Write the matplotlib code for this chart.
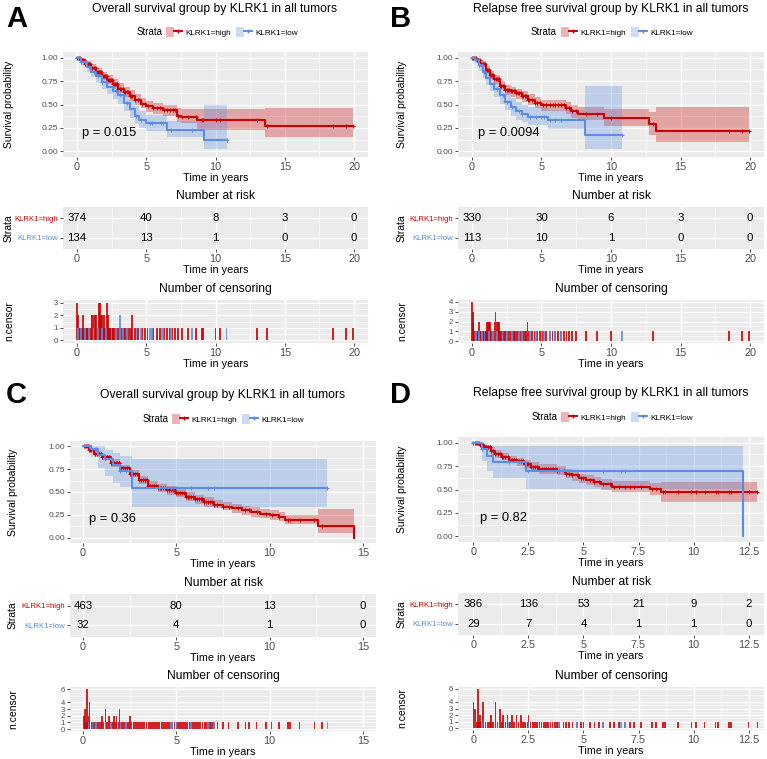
import numpy as np
import matplotlib
matplotlib.use('Agg')
import matplotlib.pyplot as plt
from matplotlib.patches import Patch
from matplotlib.lines import Line2D
from matplotlib.legend_handler import HandlerTuple

plt.rcParams['font.family'] = ['Liberation Sans', 'DejaVu Sans']

# ---------------- DATA ----------------
strata_labels = ['KLRK1=high', 'KLRK1=low']

# Panel A : overall survival (all tumors)
A_title = 'Overall survival group by KLRK1 in all tumors'
A_pval = 'p = 0.015'
A_high_t = [0, 0.3, 0.6, 1.0, 1.4, 1.8, 2.2, 2.6, 3.0, 3.4, 3.8, 4.2, 4.6, 5.0, 5.5, 6.2, 7.2, 7.5, 8.7, 13.6, 19.9]
A_high_s = [1.0, 0.97, 0.93, 0.89, 0.85, 0.80, 0.76, 0.72, 0.67, 0.63, 0.59, 0.55, 0.51, 0.48, 0.46, 0.44, 0.38, 0.37, 0.335, 0.27, 0.27]
A_high_up = [1.0, 0.99, 0.96, 0.93, 0.89, 0.85, 0.81, 0.77, 0.73, 0.69, 0.65, 0.61, 0.57, 0.54, 0.52, 0.50, 0.46, 0.45, 0.45, 0.46, 0.46]
A_high_lo = [1.0, 0.95, 0.90, 0.86, 0.81, 0.76, 0.72, 0.67, 0.62, 0.58, 0.54, 0.50, 0.46, 0.42, 0.40, 0.38, 0.31, 0.30, 0.23, 0.155, 0.155]
A_low_t = [0, 0.3, 0.7, 1.0, 1.4, 1.8, 2.2, 2.6, 3.0, 3.4, 3.8, 4.2, 4.5, 5.0, 6.5, 9.2, 10.8]
A_low_s = [1.0, 0.95, 0.90, 0.85, 0.80, 0.74, 0.69, 0.64, 0.60, 0.52, 0.45, 0.38, 0.33, 0.30, 0.23, 0.12, 0.12]
A_low_up = [1.0, 0.99, 0.95, 0.91, 0.87, 0.82, 0.77, 0.73, 0.69, 0.62, 0.55, 0.48, 0.43, 0.39, 0.32, 0.50, 0.50]
A_low_lo = [1.0, 0.91, 0.85, 0.79, 0.73, 0.67, 0.61, 0.56, 0.51, 0.43, 0.36, 0.29, 0.25, 0.22, 0.15, 0.03, 0.03]
A_risk_t = [0, 5, 10, 15, 20]
A_risk_high = [374, 40, 8, 3, 0]
A_risk_low = [134, 13, 1, 0, 0]
A_cens_high_t = [0.00, 0.08, 0.15, 0.22, 0.30, 0.38, 0.45, 0.52, 0.60, 0.68, 0.75, 0.82, 0.90, 0.98, 1.05, 1.12, 1.20,
                 1.28, 1.35, 1.42, 1.50, 1.58, 1.65, 1.72, 1.80, 1.88, 1.95, 2.02, 2.10, 2.18, 2.25, 2.32, 2.40, 2.48,
                 2.55, 2.62, 2.70, 2.78, 2.85, 2.92, 3.00, 3.10, 3.20, 3.30, 3.40, 3.50, 3.60, 3.70, 3.80, 3.90, 4.00,
                 4.20, 4.40, 4.70, 4.90, 5.10, 5.50, 5.80, 6.00, 6.30, 6.50, 6.70, 6.90, 7.10, 7.30, 7.60, 8.00, 8.60,
                 9.00, 9.10, 10.00, 10.30, 13.00, 13.70, 18.50, 19.40, 19.90]
A_cens_high_n = [3, 2, 1, 1, 1, 1, 2, 1, 1, 1, 1, 1, 1, 1, 2, 2, 2,
                 2, 2, 2, 1, 3, 3, 2, 2, 1, 2, 1, 1, 3, 2, 1, 1, 1,
                 1, 1, 1, 1, 1, 1, 1, 1, 1, 1, 1, 1, 1, 1, 1, 1, 2,
                 1, 1, 1, 1, 1, 1, 1, 1, 1, 1, 1, 1, 1, 1, 1, 1, 1,
                 1, 1, 1, 1, 1, 1, 1, 1, 1]
A_cens_low_t = [0.10, 0.30, 0.60, 0.90, 1.20, 1.50, 1.80, 2.10, 2.50, 2.80, 3.10, 3.30, 3.60, 4.30, 4.60, 5.30, 5.40,
                6.10, 6.20, 6.80, 8.30, 10.80]
A_cens_low_n = [1, 1, 1, 1, 1, 1, 1, 1, 1, 1, 2, 1, 1, 1, 1, 1, 1, 1, 1, 1, 1, 1]

# Panel B : relapse free survival (all tumors)
B_title = 'Relapse free survival group by KLRK1 in all tumors'
B_pval = 'p = 0.0094'
B_high_t = [0, 0.3, 0.6, 1.0, 1.3, 1.6, 2.0, 2.4, 2.8, 3.2, 3.6, 4.0, 4.5, 5.0, 6.8, 7.1, 7.6, 9.5, 12.7, 13.2, 19.9]
B_high_s = [1.0, 0.97, 0.93, 0.87, 0.82, 0.77, 0.70, 0.66, 0.64, 0.62, 0.59, 0.55, 0.52, 0.49, 0.46, 0.43, 0.40, 0.36, 0.29, 0.22, 0.22]
B_high_up = [1.0, 0.99, 0.96, 0.91, 0.86, 0.82, 0.75, 0.71, 0.69, 0.67, 0.64, 0.61, 0.58, 0.55, 0.53, 0.50, 0.47, 0.45, 0.42, 0.47, 0.47]
B_high_lo = [1.0, 0.95, 0.90, 0.83, 0.77, 0.72, 0.65, 0.60, 0.58, 0.56, 0.53, 0.49, 0.46, 0.43, 0.40, 0.36, 0.33, 0.27, 0.18, 0.10, 0.10]
B_low_t = [0, 0.2, 0.5, 0.8, 1.0, 1.3, 1.6, 2.0, 2.4, 2.8, 3.2, 3.6, 4.0, 5.5, 8.1, 10.8]
B_low_s = [1.0, 0.97, 0.92, 0.85, 0.78, 0.72, 0.67, 0.60, 0.53, 0.47, 0.43, 0.40, 0.37, 0.34, 0.17, 0.17]
B_low_up = [1.0, 1.0, 0.98, 0.92, 0.86, 0.81, 0.76, 0.70, 0.63, 0.57, 0.53, 0.50, 0.47, 0.44, 0.70, 0.70]
B_low_lo = [1.0, 0.94, 0.86, 0.78, 0.71, 0.64, 0.58, 0.51, 0.44, 0.38, 0.34, 0.31, 0.28, 0.24, 0.03, 0.03]
B_risk_t = [0, 5, 10, 15, 20]
B_risk_high = [330, 30, 6, 3, 0]
B_risk_low = [113, 10, 1, 0, 0]
B_cens_high_t = [0.00, 0.05, 0.12, 0.20, 0.28, 0.35, 0.42, 0.50, 0.58, 0.65, 0.72, 0.80, 0.88, 0.95, 1.02, 1.10, 1.18,
                 1.25, 1.32, 1.40, 1.48, 1.55, 1.62, 1.70, 1.78, 1.85, 1.92, 2.00, 2.10, 2.20, 2.30, 2.40, 2.50, 2.60,
                 2.70, 2.80, 2.90, 3.00, 3.10, 3.20, 3.30, 3.40, 3.50, 3.60, 3.70, 3.80, 3.90, 4.00, 4.10, 4.30, 4.50,
                 4.70, 4.90, 5.10, 5.30, 5.60, 5.80, 6.00, 6.20, 6.40, 6.60, 6.80, 7.00, 7.20, 7.50, 8.20, 9.00, 10.00,
                 13.00, 18.50, 19.40, 19.90]
B_cens_high_n = [4, 3, 2, 1, 1, 1, 1, 2, 1, 1, 1, 1, 1, 1, 1, 2, 2,
                 2, 2, 1, 1, 1, 2, 3, 2, 2, 2, 1, 1, 1, 1, 1, 1, 1,
                 1, 1, 1, 1, 1, 1, 1, 1, 1, 1, 1, 1, 1, 2, 1, 1, 1,
                 1, 1, 1, 1, 1, 1, 1, 1, 1, 1, 1, 1, 1, 1, 1, 1, 1,
                 1, 1, 1, 1]
B_cens_low_t = [0.30, 0.50, 0.70, 0.90, 1.20, 1.50, 1.80, 2.20, 2.50, 2.90, 3.40, 3.60, 4.20, 4.60, 5.00, 5.20, 5.60,
                6.00, 6.40, 10.80]
B_cens_low_n = [1, 1, 1, 1, 1, 1, 1, 1, 1, 1, 1, 1, 1, 1, 1, 1, 1, 1, 1, 1]

# Panel C : overall survival
C_title = 'Overall survival group by KLRK1 in all tumors'
C_pval = 'p = 0.36'
C_high_t = [0, 0.3, 0.6, 1.0, 1.5, 2.0, 2.5, 3.0, 3.5, 4.0, 4.5, 5.0, 5.5, 6.0, 6.5, 7.0, 7.5, 8.0, 8.5, 9.0, 9.5,
            10.0, 10.5, 10.8, 12.6, 14.5]
C_high_s = [1.0, 0.96, 0.92, 0.88, 0.82, 0.76, 0.70, 0.63, 0.57, 0.54, 0.52, 0.49, 0.45, 0.42, 0.39, 0.36, 0.34, 0.32,
            0.30, 0.28, 0.26, 0.245, 0.23, 0.195, 0.125, 0.0]
C_high_up = [1.0, 0.98, 0.95, 0.91, 0.86, 0.80, 0.74, 0.68, 0.62, 0.59, 0.57, 0.54, 0.50, 0.47, 0.44, 0.41, 0.39, 0.37,
             0.35, 0.33, 0.31, 0.30, 0.28, 0.25, 0.31, 0.31]
C_high_lo = [1.0, 0.94, 0.89, 0.85, 0.78, 0.72, 0.66, 0.59, 0.53, 0.50, 0.47, 0.44, 0.40, 0.37, 0.34, 0.32, 0.30, 0.27,
             0.25, 0.23, 0.21, 0.19, 0.18, 0.15, 0.05, 0.05]
C_low_t = [0, 0.4, 0.8, 1.2, 1.6, 2.0, 2.6, 13.1]
C_low_s = [1.0, 0.97, 0.91, 0.86, 0.80, 0.73, 0.545, 0.545]
C_low_up = [1.0, 1.0, 1.0, 0.96, 0.93, 0.90, 0.86, 0.86]
C_low_lo = [1.0, 0.88, 0.76, 0.68, 0.60, 0.55, 0.34, 0.34]
C_risk_t = [0, 5, 10, 15]
C_risk_high = [463, 80, 13, 0]
C_risk_low = [32, 4, 1, 0]
C_cens_high_t = [0.05, 0.10, 0.15, 0.20, 0.25, 0.30, 0.35, 0.45, 0.55, 0.65, 0.75, 0.85, 0.95, 1.00, 1.10, 1.20, 1.30,
                 1.40, 1.50, 1.60, 1.65, 1.75, 1.80, 1.90, 1.95, 2.05, 2.15, 2.25, 2.35, 2.45, 2.50, 2.60, 2.70, 2.80,
                 2.90, 3.00, 3.10, 3.20, 3.30, 3.40, 3.50, 3.60, 3.70, 3.80, 3.90, 4.00, 4.10, 4.20, 4.30, 4.40, 4.50,
                 4.60, 4.70, 4.80, 4.90, 5.00, 5.10, 5.20, 5.30, 5.40, 5.50, 5.60, 5.70, 5.80, 5.90, 6.00, 6.10, 6.20,
                 6.30, 6.40, 6.50, 6.60, 6.70, 6.80, 6.90, 7.00, 7.20, 7.50, 7.80, 8.30, 8.70, 8.90, 9.30, 9.80, 10.10,
                 10.50, 11.00, 11.10, 11.60, 12.40, 12.80]
C_cens_high_n = [2, 3, 1, 6, 1, 2, 4, 1, 1, 1, 1, 1, 1, 2, 1, 3, 1,
                 2, 1, 1, 2, 1, 2, 1, 3, 1, 1, 1, 1, 1, 2, 1, 1, 1,
                 1, 1, 1, 1, 1, 1, 1, 1, 1, 1, 1, 1, 1, 1, 1, 1, 1,
                 1, 1, 1, 1, 1, 1, 1, 1, 1, 1, 1, 1, 1, 1, 1, 1, 1,
                 1, 1, 1, 1, 1, 1, 1, 1, 1, 1, 1, 1, 1, 1, 1, 1, 1,
                 1, 1, 1, 1, 1, 1]
C_cens_low_t = [0.30, 0.50, 0.70, 1.20, 1.50, 2.00, 2.30, 4.70, 4.80, 5.00, 5.80, 6.70, 7.00, 13.10]
C_cens_low_n = [1, 1, 1, 1, 1, 1, 1, 1, 1, 1, 1, 1, 1, 1]

# Panel D : relapse free survival
D_title = 'Relapse free survival group by KLRK1 in all tumors'
D_pval = 'p = 0.82'
D_high_t = [0, 0.3, 0.5, 0.8, 1.0, 1.3, 1.6, 2.0, 2.3, 2.6, 3.0, 3.8, 4.2, 4.5, 4.8, 5.1, 5.5, 5.8, 6.3, 8.0, 8.5, 12.9]
D_high_s = [1.0, 0.98, 0.95, 0.91, 0.88, 0.85, 0.82, 0.80, 0.77, 0.74, 0.72, 0.70, 0.67, 0.65, 0.62, 0.60, 0.58, 0.56,
            0.53, 0.51, 0.47, 0.47]
D_high_up = [1.0, 1.0, 0.98, 0.95, 0.92, 0.89, 0.86, 0.84, 0.81, 0.79, 0.77, 0.75, 0.72, 0.70, 0.67, 0.65, 0.63, 0.61,
             0.59, 0.57, 0.58, 0.58]
D_high_lo = [1.0, 0.96, 0.92, 0.87, 0.84, 0.81, 0.78, 0.75, 0.72, 0.69, 0.67, 0.65, 0.62, 0.59, 0.57, 0.55, 0.53, 0.50,
             0.47, 0.44, 0.37, 0.37]
D_low_t = [0, 0.4, 0.6, 0.9, 2.4, 12.25]
D_low_s = [1.0, 0.93, 0.86, 0.79, 0.70, 0.0]
D_low_up = [1.0, 1.0, 0.98, 0.96, 0.96, 0.96]
D_low_lo = [1.0, 0.80, 0.70, 0.62, 0.51, 0.51]
D_risk_t = [0, 2.5, 5, 7.5, 10, 12.5]
D_risk_high = [386, 136, 53, 21, 9, 2]
D_risk_low = [29, 7, 4, 1, 1, 0]
D_cens_high_t = [0.00, 0.05, 0.10, 0.15, 0.20, 0.25, 0.30, 0.35, 0.45, 0.55, 0.65, 0.75, 0.80, 0.90, 1.00, 1.10, 1.20,
                 1.30, 1.35, 1.45, 1.55, 1.65, 1.75, 1.85, 1.95, 2.05, 2.15, 2.25, 2.35, 2.45, 2.50, 2.60, 2.70, 2.80,
                 2.90, 3.00, 3.10, 3.20, 3.30, 3.40, 3.50, 3.60, 3.70, 3.80, 3.90, 4.10, 4.20, 4.35, 4.50, 4.70, 4.90,
                 5.00, 5.30, 5.50, 5.70, 5.90, 6.20, 6.40, 6.60, 6.90, 7.10, 7.30, 7.60, 8.10, 8.30, 8.60, 8.70, 9.30,
                 9.90, 10.10, 10.50, 11.00, 11.10, 11.60, 11.70, 12.50, 12.90]
D_cens_high_n = [4, 3, 3, 1, 6, 1, 2, 1, 4, 1, 1, 1, 2, 1, 4, 1, 3,
                 1, 2, 1, 2, 1, 2, 1, 2, 1, 2, 1, 1, 1, 2, 1, 1, 1,
                 1, 1, 1, 1, 1, 1, 1, 1, 1, 1, 1, 1, 1, 1, 1, 1, 1,
                 1, 1, 1, 1, 1, 1, 1, 1, 1, 1, 1, 1, 1, 1, 1, 1, 1,
                 1, 1, 1, 1, 1, 1, 1, 1, 1]
D_cens_low_t = [0.40, 1.60, 2.50, 3.90, 4.70, 5.90, 6.70, 6.90]
D_cens_low_n = [1, 1, 1, 1, 1, 1, 1, 1]

# ---------------- STYLE / LAYOUT ----------------
W, H = 767, 759
RED = '#CC0000'
BLUE = '#5B8DE3'
PANEL = '#EBEBEB'
TXT = '#4D4D4D'
TICK = '#333333'

fig = plt.figure(figsize=(W / 100, H / 100), dpi=100)


def box(x0, y0, x1, y1):
    return [x0 / W, 1 - y1 / H, (x1 - x0) / W, (y1 - y0) / H]


def style_ax(ax, xlim, xticks, xticklabels):
    ax.set_facecolor(PANEL)
    for sp in ax.spines.values():
        sp.set_visible(False)
    ax.set_xlim(*xlim)
    ax.set_xticks(xticks)
    ax.set_xticklabels(xticklabels)
    minors = [(a + b) / 2 for a, b in zip(xticks[:-1], xticks[1:])]
    ax.set_xticks(minors, minor=True)
    ax.tick_params(axis='x', which='major', length=2.5, width=0.6, color=TICK, labelsize=7.8,
                   labelcolor=TXT, pad=1)
    ax.tick_params(axis='y', which='major', length=2.5, width=0.6, color=TICK, labelsize=6,
                   labelcolor=TXT, pad=1)
    ax.tick_params(which='minor', length=0)
    ax.grid(which='major', color='white', lw=0.9)
    ax.grid(which='minor', color='white', lw=0.45)
    ax.set_axisbelow(True)


def step_value(t, s, x):
    i = np.searchsorted(np.asarray(t), x, side='right') - 1
    return np.asarray(s)[i]


def draw_panel(cfg):
    L = cfg['layout']
    xlim, xt, xtl = cfg['xlim'], cfg['xticks'], cfg['xticklabels']

    # letter, title, legend
    fig.text(L['letter'][0] / W, 1 - L['letter'][1] / H, cfg['letter'], fontsize=21, weight='bold',
             ha='left', va='top')
    fig.text(L['title'][0] / W, 1 - L['title'][1] / H, cfg['title'], fontsize=8.7, ha='center', va='center')
    fig.text(L['strata_x'] / W, 1 - L['legend_y'] / H, 'Strata', fontsize=6.9, ha='left', va='center')
    h_high = (Patch(facecolor=RED, alpha=0.3, edgecolor='none'),
              Line2D([], [], color=RED, lw=1.4, marker='+', markersize=3.5))
    h_low = (Patch(facecolor=BLUE, alpha=0.3, edgecolor='none'),
             Line2D([], [], color=BLUE, lw=1.4, marker='+', markersize=3.5))
    fig.legend([h_high, h_low], strata_labels, ncol=2, loc='center left',
               bbox_to_anchor=(L['legend_x'] / W, 1 - L['legend_y'] / H), frameon=False, fontsize=5.9,
               handlelength=2.0, handleheight=1.6, handletextpad=0.35, columnspacing=0.6,
               borderpad=0, borderaxespad=0, handler_map={tuple: HandlerTuple(ndivide=None, pad=0)})

    # survival curves
    ax = fig.add_axes(box(*L['surv']))
    style_ax(ax, xlim, xt, xtl)
    ax.set_ylim(-0.06, 1.06)
    ax.set_yticks([0, 0.25, 0.5, 0.75, 1.0])
    ax.set_yticklabels(['0.00', '0.25', '0.50', '0.75', '1.00'])
    ax.set_yticks([0.125, 0.375, 0.625, 0.875], minor=True)
    for (t, s, up, lo, ct, col) in [
        (cfg['high_t'], cfg['high_s'], cfg['high_up'], cfg['high_lo'], cfg['cens_high_t'], RED),
        (cfg['low_t'], cfg['low_s'], cfg['low_up'], cfg['low_lo'], cfg['cens_low_t'], BLUE)]:
        ax.fill_between(t, lo, up, step='post', color=col, alpha=0.3, lw=0)
        ax.step(t, s, where='post', color=col, lw=1.5)
        ctv = [c for c in ct if c <= t[-1]]
        ax.plot(ctv, [step_value(t, s, c) for c in ctv], ls='none', marker='+', color=col,
                markersize=3.3, mew=0.7)
    ax.text(cfg['pval_x'], 0.2, cfg['pval'], fontsize=9.3, ha='left', va='center')
    ax.set_xlabel('Time in years', fontsize=7.8, labelpad=1)
    sy = (L['surv'][1] + L['surv'][3]) / 2
    fig.text(L['ylab_x'] / W, 1 - sy / H, 'Survival probability', rotation=90, fontsize=7.5,
             ha='center', va='center')

    # risk table
    ax2 = fig.add_axes(box(*L['risk']))
    style_ax(ax2, xlim, xt, xtl)
    ax2.set_ylim(0.4, 2.6)
    ax2.set_yticks([1, 2])
    ax2.set_yticklabels([strata_labels[1], strata_labels[0]], fontsize=5.6)
    ax2.get_yticklabels()[0].set_color(BLUE)
    ax2.get_yticklabels()[1].set_color(RED)
    for x, nh, nl in zip(cfg['risk_t'], cfg['risk_high'], cfg['risk_low']):
        ax2.text(x, 2, str(nh), ha='center', va='center', fontsize=8.2)
        ax2.text(x, 1, str(nl), ha='center', va='center', fontsize=8.2)
    ax2.set_xlabel('Time in years', fontsize=7.8, labelpad=1)
    ry = (L['risk'][1] + L['risk'][3]) / 2
    fig.text(L['ylab_x'] / W, 1 - ry / H, 'Strata', rotation=90, fontsize=7.5, ha='center', va='center')
    cx = (L['risk'][0] + L['risk'][2]) / 2
    fig.text(cx / W, 1 - (L['risk'][1] - 11) / H, 'Number at risk', fontsize=8.7, ha='center', va='center')

    # censoring
    ax3 = fig.add_axes(box(*L['cens']))
    style_ax(ax3, xlim, xt, xtl)
    ax3.set_ylim(*cfg['cens_ylim'])
    ax3.set_yticks(cfg['cens_yticks'])
    ax3.set_yticklabels([str(v) for v in cfg['cens_yticks']], fontsize=5.6)
    yt = cfg['cens_yticks']
    ax3.set_yticks([(a + b) / 2 for a, b in zip(yt[:-1], yt[1:])], minor=True)
    ax3.bar(cfg['cens_high_t'], cfg['cens_high_n'], width=cfg['bar_w'], color=RED, alpha=0.85, lw=0)
    ax3.bar(cfg['cens_low_t'], cfg['cens_low_n'], width=cfg['bar_w'], color=BLUE, alpha=0.85, lw=0)
    ax3.set_xlabel('Time in years', fontsize=7.8, labelpad=1)
    ny = (L['cens'][1] + L['cens'][3]) / 2
    fig.text(L['ylab_x'] / W, 1 - ny / H, 'n.censor', rotation=90, fontsize=7.5, ha='center', va='center')
    fig.text(cx / W, 1 - (L['cens'][1] - 11) / H, 'Number of censoring', fontsize=8.7, ha='center', va='center')


ticks20 = [0, 5, 10, 15, 20]
ticks15 = [0, 5, 10, 15]
ticks125 = [0, 2.5, 5, 7.5, 10, 12.5]

panels = [
    dict(letter='A', title=A_title, pval=A_pval, pval_x=0.34,
         high_t=A_high_t, high_s=A_high_s, high_up=A_high_up, high_lo=A_high_lo,
         low_t=A_low_t, low_s=A_low_s, low_up=A_low_up, low_lo=A_low_lo,
         risk_t=A_risk_t, risk_high=A_risk_high, risk_low=A_risk_low,
         cens_high_t=A_cens_high_t, cens_high_n=A_cens_high_n, cens_low_t=A_cens_low_t, cens_low_n=A_cens_low_n,
         xlim=(-1, 21), xticks=ticks20, xticklabels=['0', '5', '10', '15', '20'],
         cens_yticks=[0, 1, 2, 3], cens_ylim=(-0.2, 3.2), bar_w=0.13,
         layout=dict(letter=(6, 5), title=(215, 9), strata_x=137, legend_x=166, legend_y=32, ylab_x=9,
                     surv=(63, 52, 368, 157), risk=(63, 207, 368, 249), cens=(63, 300, 368, 343))),
    dict(letter='B', title=B_title, pval=B_pval, pval_x=0.45,
         high_t=B_high_t, high_s=B_high_s, high_up=B_high_up, high_lo=B_high_lo,
         low_t=B_low_t, low_s=B_low_s, low_up=B_low_up, low_lo=B_low_lo,
         risk_t=B_risk_t, risk_high=B_risk_high, risk_low=B_risk_low,
         cens_high_t=B_cens_high_t, cens_high_n=B_cens_high_n, cens_low_t=B_cens_low_t, cens_low_n=B_cens_low_n,
         xlim=(-1, 21), xticks=ticks20, xticklabels=['0', '5', '10', '15', '20'],
         cens_yticks=[0, 1, 2, 3, 4], cens_ylim=(-0.2, 4.2), bar_w=0.13,
         layout=dict(letter=(390, 5), title=(611, 9), strata_x=531, legend_x=561, legend_y=32, ylab_x=402,
                     surv=(458, 52, 764, 157), risk=(458, 207, 764, 249), cens=(458, 300, 764, 343))),
    dict(letter='C', title=C_title, pval=C_pval, pval_x=0.34,
         high_t=C_high_t, high_s=C_high_s, high_up=C_high_up, high_lo=C_high_lo,
         low_t=C_low_t, low_s=C_low_s, low_up=C_low_up, low_lo=C_low_lo,
         risk_t=C_risk_t, risk_high=C_risk_high, risk_low=C_risk_low,
         cens_high_t=C_cens_high_t, cens_high_n=C_cens_high_n, cens_low_t=C_cens_low_t, cens_low_n=C_cens_low_n,
         xlim=(-0.7, 15.7), xticks=ticks15, xticklabels=['0', '5', '10', '15'],
         cens_yticks=[0, 1, 2, 3, 4, 6], cens_ylim=(-0.3, 6.3), bar_w=0.09,
         layout=dict(letter=(6, 381), title=(223, 395), strata_x=143, legend_x=172, legend_y=419, ylab_x=13,
                     surv=(70, 441, 376, 543), risk=(70, 594, 376, 637), cens=(70, 687, 376, 731))),
    dict(letter='D', title=D_title, pval=D_pval, pval_x=0.28,
         high_t=D_high_t, high_s=D_high_s, high_up=D_high_up, high_lo=D_high_lo,
         low_t=D_low_t, low_s=D_low_s, low_up=D_low_up, low_lo=D_low_lo,
         risk_t=D_risk_t, risk_high=D_risk_high, risk_low=D_risk_low,
         cens_high_t=D_cens_high_t, cens_high_n=D_cens_high_n, cens_low_t=D_cens_low_t, cens_low_n=D_cens_low_n,
         xlim=(-0.7, 13.2), xticks=ticks125, xticklabels=['0', '2.5', '5', '7.5', '10', '12.5'],
         cens_yticks=[0, 1, 2, 3, 4, 6], cens_ylim=(-0.3, 6.3), bar_w=0.075,
         layout=dict(letter=(390, 381), title=(611, 393), strata_x=532, legend_x=561, legend_y=417, ylab_x=402,
                     surv=(458, 437, 764, 542), risk=(458, 593, 764, 635), cens=(458, 687, 764, 730))),
]

for p in panels:
    draw_panel(p)

fig.savefig('out.png', dpi=100, facecolor='white')
